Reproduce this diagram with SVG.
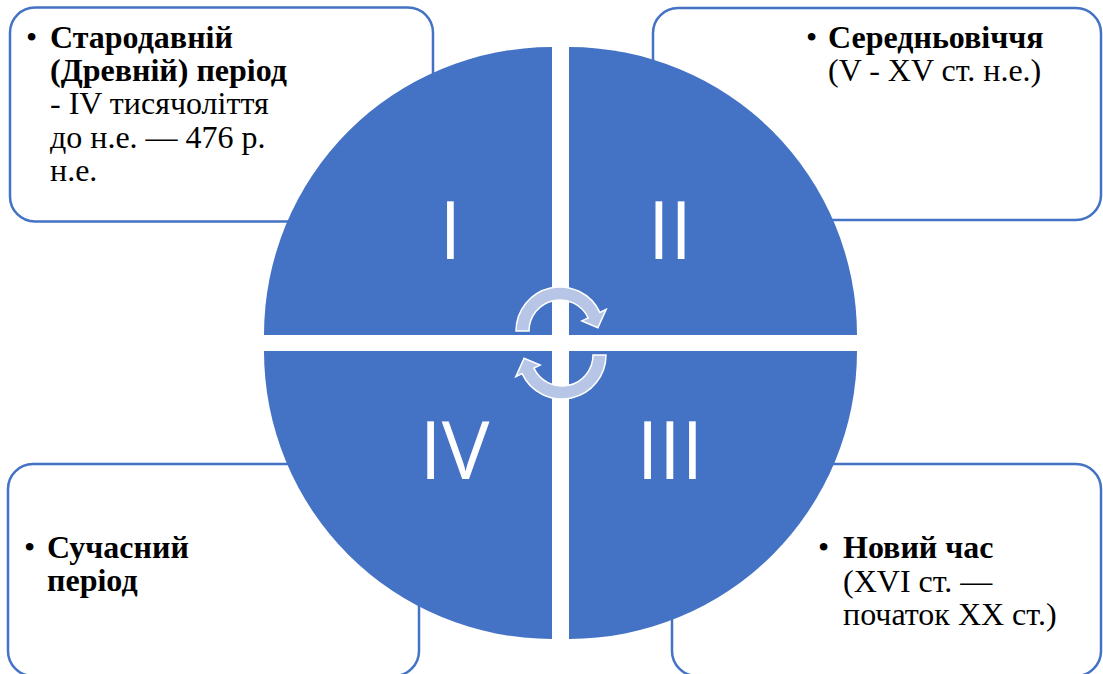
<svg xmlns="http://www.w3.org/2000/svg" width="1103" height="674" viewBox="0 0 1103 674">
<style>
.box{fill:#ffffff;stroke:#4472C4;stroke-width:2.5}
.quad{fill:#4472C4}
.num{font-family:"Open Sans","DejaVu Sans",sans-serif;font-size:80px;fill:#ffffff;text-anchor:middle}
.t{font-size:32px;fill:#000000}
.b{font-weight:bold}
.arr{fill:#b7c5e6;stroke:#ffffff;stroke-width:1.5;stroke-linejoin:miter}
</style>
<rect width="1103" height="674" fill="#ffffff"/>
<g id="box-tl"><rect class="box" x="10" y="7.5" width="423" height="214" rx="25"/>
<text class="t" font-family="'Liberation Serif', 'DejaVu Serif', serif"><tspan x="26" y="48">•</tspan><tspan class="b" x="50" y="48">Стародавній</tspan><tspan class="b" x="50" y="81">(Древній) період</tspan><tspan x="50" y="114">- IV тисячоліття</tspan><tspan x="50" y="148">до н.е. — 476 р.</tspan><tspan x="50" y="181">н.е.</tspan></text></g>
<g id="box-tr"><rect class="box" x="653" y="8" width="448" height="212" rx="25"/>
<text class="t" font-family="'Liberation Serif', 'DejaVu Serif', serif"><tspan x="806" y="48">•</tspan><tspan class="b" x="828" y="48">Середньовіччя</tspan><tspan x="828" y="81">(V - XV ст. н.е.)</tspan></text></g>
<g id="box-bl"><rect class="box" x="8" y="464" width="411" height="212" rx="25"/>
<text class="t" font-family="'Liberation Serif', 'DejaVu Serif', serif"><tspan x="24" y="558">•</tspan><tspan class="b" x="47" y="558">Сучасний</tspan><tspan class="b" x="47" y="591">період</tspan></text></g>
<g id="box-br"><rect class="box" x="672" y="464" width="429" height="212" rx="25"/>
<text class="t" font-family="'Liberation Serif', 'DejaVu Serif', serif"><tspan x="818" y="558">•</tspan><tspan class="b" x="843" y="558">Новий час</tspan><tspan x="843" y="592">(XVI ст. —</tspan><tspan x="843" y="625">початок XX ст.)</tspan></text></g>
<g id="quad-I"><path class="quad" d="M552,335 L264,335 A288,288 0 0 1 552,47 Z"/><text class="num" x="450.5" y="259">I</text></g>
<g id="quad-II"><path class="quad" d="M569,335 L569,47 A288,288 0 0 1 857,335 Z"/><text class="num" x="670" y="259">II</text></g>
<g id="quad-III"><path class="quad" d="M569,351 L857,351 A288,288 0 0 1 569,639 Z"/><text class="num" x="670" y="479">III</text></g>
<g id="quad-IV"><path class="quad" d="M552,351 L552,639 A288,288 0 0 1 264,351 Z"/><text class="num" x="454.5" y="479">IV</text></g>
<g id="connectors">
<path id="arrow-top" class="arr" d="M516,331 A44,44 0 0 1 599.9,312.4 L606.2,309.4 L597.9,327.7 L581.8,320.9 L588.1,317.9 A31,31 0 0 0 529,331 Z"/>
<path id="arrow-bottom" class="arr" transform="rotate(180 561 343)" d="M516,331 A44,44 0 0 1 599.9,312.4 L606.2,309.4 L597.9,327.7 L581.8,320.9 L588.1,317.9 A31,31 0 0 0 529,331 Z"/>
</g>
</svg>
